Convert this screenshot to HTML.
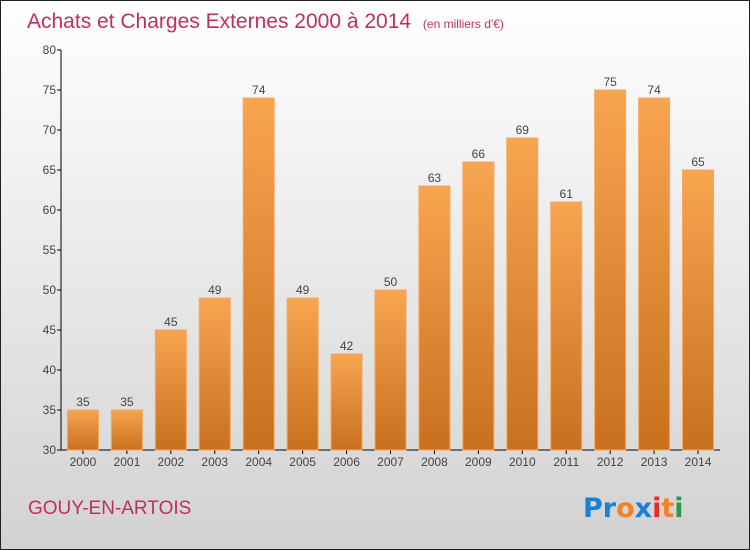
<!DOCTYPE html>
<html><head><meta charset="utf-8"><style>
body{margin:0}
#c{width:750px;height:550px;position:relative;overflow:hidden;font-family:"Liberation Sans",sans-serif}
</style></head><body>
<div id="c">
<svg id="s" width="750" height="550" xmlns="http://www.w3.org/2000/svg">
<defs>
<linearGradient id="bg" x1="0" y1="0" x2="0" y2="1"><stop offset="0" stop-color="#ffffff"/><stop offset="1" stop-color="#d2d2d2"/></linearGradient>
<linearGradient id="bar" x1="0" y1="0" x2="0" y2="1"><stop offset="0" stop-color="#f8a550"/><stop offset="1" stop-color="#c8701e"/></linearGradient>
</defs>
<rect x="0.5" y="0.5" width="749" height="549" fill="url(#bg)" stroke="#222"/>
<text x="27" y="28" font-size="21" fill="#c0305a">Achats et Charges Externes 2000 à 2014 <tspan font-size="12" dx="6">(en milliers d'€)</tspan></text>
<text x="28" y="514" font-size="19" fill="#c0305a">GOUY-EN-ARTOIS</text>
<g font-size="27" font-weight="bold" font-family="'DejaVu Sans',sans-serif">
<text x="583" y="517"><tspan fill="#1a7fd6">Pr</tspan><tspan fill="#f58220">o</tspan><tspan fill="#1a7fd6">x</tspan><tspan fill="#e03020">i</tspan><tspan fill="#f58220">t</tspan><tspan fill="#2a9a40">i</tspan></text>
</g>
<g id="axes"></g>
<g id="bars"></g>
</svg>
</div>
<script>
const years=["2000","2001","2002","2003","2004","2005","2006","2007","2008","2009","2010","2011","2012","2013","2014"];
const values=[35,35,45,49,74,49,42,50,63,66,69,61,75,74,65];
const yTicks=[30,35,40,45,50,55,60,65,70,75,80];
const NS="http://www.w3.org/2000/svg";
const x0=61,x1=720,yTop=50,yBot=450,yMin=30,yMax=80;
const step=(x1-x0)/years.length;
const xs=i=>x0+step*(i+0.5);
const ys=v=>yBot-(v-yMin)/(yMax-yMin)*(yBot-yTop);
function mk(t,a,p){const e=document.createElementNS(NS,t);for(const k in a)e.setAttribute(k,a[k]);p.appendChild(e);return e;}
const ax=document.getElementById('axes'),bg=document.getElementById('bars');
let l=mk('line',{x1:x0,y1:yTop,x2:x0,y2:yBot,stroke:'#000'},ax);


l=mk('line',{x1:x0,y1:yBot,x2:x1,y2:yBot,stroke:'#000'},ax);


yTicks.forEach(v=>{
 const y=ys(v);
 mk('line',{x1:x0-4,y1:y,x2:x0,y2:y,stroke:'#000'},ax);
 const t=mk('text',{x:x0-5,y:y+4,'font-size':12,fill:'#444','text-anchor':'end'},ax);
 t.textContent=v;
 
 
});
years.forEach((yr,i)=>{
 const cx=xs(i),v=values[i],w=31;
 const r=mk('rect',{x:cx-w/2,y:ys(v),width:w,height:yBot-ys(v),fill:'url(#bar)',stroke:'#f4a860','stroke-width':1},bg);
 
 
 const t=mk('text',{x:cx,y:ys(v)-4,'font-size':12,fill:'#444','text-anchor':'middle'},bg);
 t.textContent=v;
 
 
 mk('line',{x1:cx,y1:yBot,x2:cx,y2:yBot+4,stroke:'#000'},ax);
 const xl=mk('text',{x:cx,y:yBot+16,'font-size':12,fill:'#444','text-anchor':'middle'},ax);
 xl.textContent=yr;
 
 
});
</script>
</body></html>
